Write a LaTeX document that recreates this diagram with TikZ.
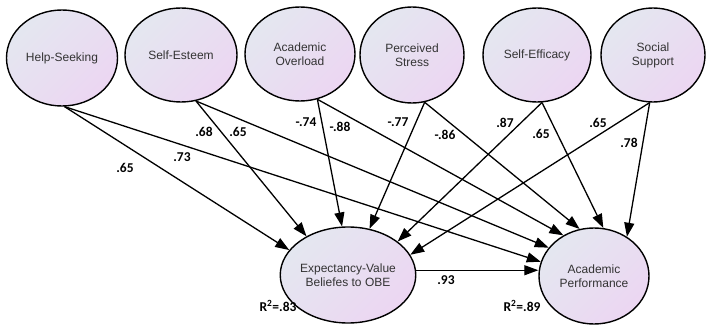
\documentclass[tikz,border=0pt]{standalone}
\usepackage{fontspec}
\setmainfont{Liberation Sans}
\newfontfamily\lblfont{Carlito}
\usetikzlibrary{arrows.meta,shapes.geometric}
\definecolor{ctext}{HTML}{333333}
\definecolor{cfillA}{HTML}{E4E7F0}
\definecolor{cfillB}{HTML}{ECD6F2}
\tikzset{
  latent/.style={ellipse, draw=black, line width=1.4pt, inner sep=0pt,
    top color=cfillA, bottom color=cfillB, shading angle=45,
    minimum width=110pt, minimum height=95pt, align=center,
    text=ctext, font=\fontsize{12}{14}\selectfont},
  arr/.style={line width=1.3pt, -{Triangle[length=14pt,width=10pt]}},
  coef/.style={font=\lblfont\bfseries\fontsize{13.5}{15}\selectfont, inner sep=0pt}
}
\begin{document}
\begin{tikzpicture}[x=1pt,y=-1pt]
\useasboundingbox (0,0) rectangle (707,326);
% top latent variables
\node[latent, minimum width=111pt, minimum height=96pt] (hs) at (62,58) {Help-Seeking};
\node[latent, minimum width=112pt, minimum height=94pt] (se) at (181,55) {Self-Esteem};
\node[latent, minimum width=110pt, minimum height=94pt] (ao) at (300,54) {Academic\\Overload};
\node[latent, minimum width=104pt, minimum height=96pt] (ps) at (412,55) {Perceived\\Stress};
\node[latent, minimum width=108pt, minimum height=94pt] (sf) at (537,55) {Self-Efficacy};
\node[latent, minimum width=104pt, minimum height=94pt] (ss) at (653,55) {Social\\Support};
% outcomes
\node[latent, minimum width=110pt, minimum height=96pt] (ev) at (348,275) {Expectancy-Value\\Beliefes to OBE};
\node[latent, minimum width=110pt, minimum height=96pt] (ap) at (594,276) {Academic\\Performance};
% paths to EV
\draw[arr] (hs.-87) -- (ev.157);
\draw[arr] (se.-72) -- (ev.137);
\draw[arr] (ao.-69) -- (ev.97);
\draw[arr] (ps.-75) -- (ev.65);
\draw[arr] (sf.-84) -- (ev.34);
\draw[arr] (ss.-94) -- (ev.18);
% paths to AP
\draw[arr] (hs.-87) -- (ap.165);
\draw[arr] (se.-72) -- (ap.148);
\draw[arr] (ao.-69) -- (ap.127);
\draw[arr] (ps.-75) -- (ap.107);
\draw[arr] (sf.-84) -- (ap.79);
\draw[arr] (ss.-94) -- (ap.50);
\draw[arr] (ev.4) -- (ev.4 -| ap.west);
% coefficients
\node[coef] (c1) at (125,168) {.65};
\node[coef] (c2) at (182,157) {.73};
\node[coef] (c3) at (204,132) {.68};
\node[coef] (c4) at (238,132) {.65};
\node[coef] (c5) at (306,122) {-.74};
\node[coef] (c6) at (340,127) {-.88};
\node[coef] (c7) at (398,122) {-.77};
\node[coef] (c8) at (445,135) {-.86};
\node[coef] (c9) at (505,123) {.87};
\node[coef] (c10) at (541,134) {.65};
\node[coef] (c11) at (598,123) {.65};
\node[coef] (c12) at (629,143) {.78};
\node[coef] (c13) at (446,280) {.93};
\node[coef] (r1) at (278,306) {R\textsuperscript{2}=.83};
\node[coef] (r2) at (522,306) {R\textsuperscript{2}=.89};
\end{tikzpicture}
\end{document}
